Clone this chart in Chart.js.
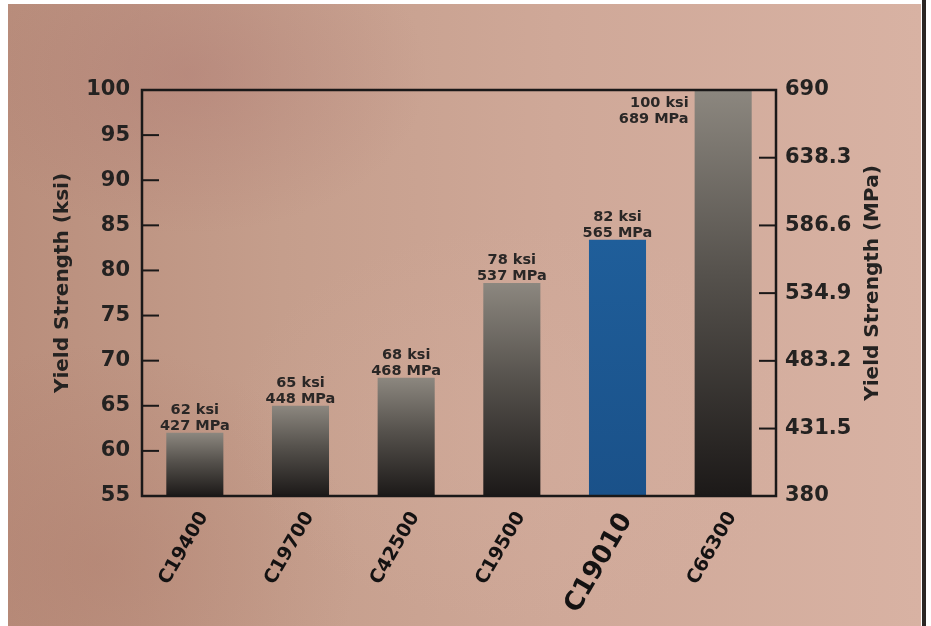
<!DOCTYPE html>
<html>
<head>
<meta charset="utf-8">
<script src="https://cdn.jsdelivr.net/npm/chart.js@4.4.1/dist/chart.umd.min.js"></script>
<style>
  html, body { margin: 0; padding: 0; background: #fff; }
  #wrap { position: relative; width: 931px; height: 626px; overflow: hidden; }
  #bg {
    position: absolute; left: 8px; top: 4px; width: 913px; height: 622px;
    background:
      radial-gradient(ellipse 240px 160px at 180px 70px, rgba(168, 112, 108, 0.35), rgba(168, 112, 108, 0)),
      radial-gradient(ellipse 260px 220px at 90px 560px, rgba(170, 118, 102, 0.35), rgba(170, 118, 102, 0)),
      radial-gradient(ellipse 300px 200px at 520px 420px, rgba(214, 176, 160, 0.35), rgba(214, 176, 160, 0)),
      linear-gradient(90deg, #b98e7c 0%, #c59e8c 30%, #cfa898 60%, #d8b2a3 100%);
  }
  #edge { position: absolute; left: 922px; top: 0; width: 4px; height: 626px; background: #2b2624; }
  #c { position: absolute; left: 0; top: 0; }
</style>
</head>
<body>
<div id="wrap">
  <div id="bg"></div>
  <div id="edge"></div>
  <canvas id="c" width="931" height="626"></canvas>
</div>
<script>
// data
const categories = ['C19400', 'C19700', 'C42500', 'C19500', 'C19010', 'C66300'];
const barHeightsKsi = [62, 65, 68.1, 78.6, 83.4, 100];
const ksiLabels = [62, 65, 68, 78, 82, 100];
const mpaLabels = [427, 448, 468, 537, 565, 689];
const highlightCategory = 'C19010';
const ksiTicks = [55, 60, 65, 70, 75, 80, 85, 90, 95, 100];
const mpaTicks = [380, 431.5, 483.2, 534.9, 586.6, 638.3, 690];

const FONT = '"DejaVu Sans", "Liberation Sans", sans-serif';
const INK = '#242221';

function barFill(ctx) {
    const chart = ctx.chart;
    const area = chart.chartArea;
    const isHi = categories[ctx.dataIndex] === highlightCategory;
    if (!area || !chart.scales.y) return isHi ? '#1d5a95' : '#4a4743';
    const top = chart.scales.y.getPixelForValue(ctx.raw);
    const g = chart.ctx.createLinearGradient(0, top, 0, area.bottom);
    if (isHi) {
        g.addColorStop(0, '#1f5e9a');
        g.addColorStop(1, '#1a5189');
    } else {
        g.addColorStop(0, '#8c877f');
        g.addColorStop(0.45, '#56524d');
        g.addColorStop(1, '#1c1918');
    }
    return g;
}

// frame + inner ticks
const framePlugin = {
    id: 'frame',
    afterDraw(chart) {
        const { ctx, chartArea: a } = chart;
        ctx.save();
        ctx.strokeStyle = '#1a1818';
        ctx.lineWidth = 2.5;
        ctx.strokeRect(a.left, a.top, a.right - a.left, a.bottom - a.top);
        ctx.lineWidth = 2;
        const tl = 17;
        chart.scales.y.ticks.forEach(t => {
            if (t.value === chart.scales.y.min || t.value === chart.scales.y.max) return;
            const y = chart.scales.y.getPixelForValue(t.value);
            ctx.beginPath(); ctx.moveTo(a.left, y); ctx.lineTo(a.left + tl, y); ctx.stroke();
        });
        chart.scales.y2.ticks.forEach(t => {
            if (t.value === chart.scales.y2.min || t.value === chart.scales.y2.max) return;
            const y = chart.scales.y2.getPixelForValue(t.value);
            ctx.beginPath(); ctx.moveTo(a.right - tl, y); ctx.lineTo(a.right, y); ctx.stroke();
        });
        ctx.restore();
    }
};

// value labels over the bars
const valueLabels = {
    id: 'valueLabels',
    afterDatasetsDraw(chart) {
        const { ctx } = chart;
        const meta = chart.getDatasetMeta(0);
        ctx.save();
        ctx.fillStyle = '#2a2726';
        ctx.font = 'bold 14.5px ' + FONT;
        ctx.textBaseline = 'alphabetic';
        meta.data.forEach((bar, i) => {
            const l1 = ksiLabels[i] + ' ksi';
            const l2 = mpaLabels[i] + ' MPa';
            if (barHeightsKsi[i] >= chart.scales.y.max) {
                ctx.textAlign = 'right';
                const x = bar.x - bar.width / 2 - 6;
                ctx.fillText(l1, x, bar.y + 17);
                ctx.fillText(l2, x, bar.y + 33);
            } else {
                ctx.textAlign = 'center';
                ctx.fillText(l1, bar.x, bar.y - 19);
                ctx.fillText(l2, bar.x, bar.y - 3);
            }
        });
        ctx.restore();
    }
};

// both axis titles read bottom-to-top
const axisTitles = {
    id: 'axisTitles',
    afterDraw(chart) {
        const { ctx, chartArea: a } = chart;
        const cy = (a.top + a.bottom) / 2 - 10;
        ctx.save();
        ctx.fillStyle = INK;
        ctx.font = 'bold 20px ' + FONT;
        ctx.textAlign = 'center';
        ctx.textBaseline = 'middle';
        [[a.left - 79, 'Yield Strength (ksi)'], [a.right + 97, 'Yield Strength (MPa)']].forEach(([x, txt]) => {
            ctx.save();
            ctx.translate(x, cy);
            ctx.rotate(-Math.PI / 2);
            ctx.fillText(txt, 0, 0);
            ctx.restore();
        });
        ctx.restore();
    }
};

new Chart(document.getElementById('c'), {
    type: 'bar',
    data: {
        labels: categories,
        datasets: [{
            data: barHeightsKsi,
            backgroundColor: barFill,
            borderWidth: 0,
            categoryPercentage: 1,
            barPercentage: 0.54
        }]
    },
    options: {
        responsive: false,
        animation: false,
        devicePixelRatio: 1,
        layout: { padding: { top: 90, left: 0, right: 0, bottom: 0 } },
        plugins: { legend: { display: false }, tooltip: { enabled: false } },
        scales: {
            x: {
                grid: { display: false },
                border: { display: false },
                afterFit: s => { s.height = 130; },
                ticks: {
                    autoSkip: false, minRotation: 60, maxRotation: 60, padding: 4, labelOffset: 9,
                    color: '#141212',
                    font: c => ({ family: FONT, weight: 'bold', size: categories[c.index] === highlightCategory ? 26 : 19 })
                }
            },
            y: {
                position: 'left', min: 55, max: 100,
                grid: { display: false, drawTicks: false },
                border: { display: false },
                afterFit: s => { s.width = 142; },
                afterBuildTicks: s => { s.ticks = ksiTicks.map(v => ({ value: v })); },
                ticks: { padding: 12, color: INK, font: { family: FONT, weight: 'bold', size: 21 }, callback: v => String(v) }
            },
            y2: {
                position: 'right', min: 380, max: 690,
                grid: { display: false, drawTicks: false },
                border: { display: false },
                afterFit: s => { s.width = 155; },
                afterBuildTicks: s => { s.ticks = mpaTicks.map(v => ({ value: v })); },
                ticks: { padding: 9, color: INK, font: { family: FONT, weight: 'bold', size: 21 }, callback: v => String(v) }
            }
        }
    },
    plugins: [framePlugin, valueLabels, axisTitles]
});
</script>
</body>
</html>
